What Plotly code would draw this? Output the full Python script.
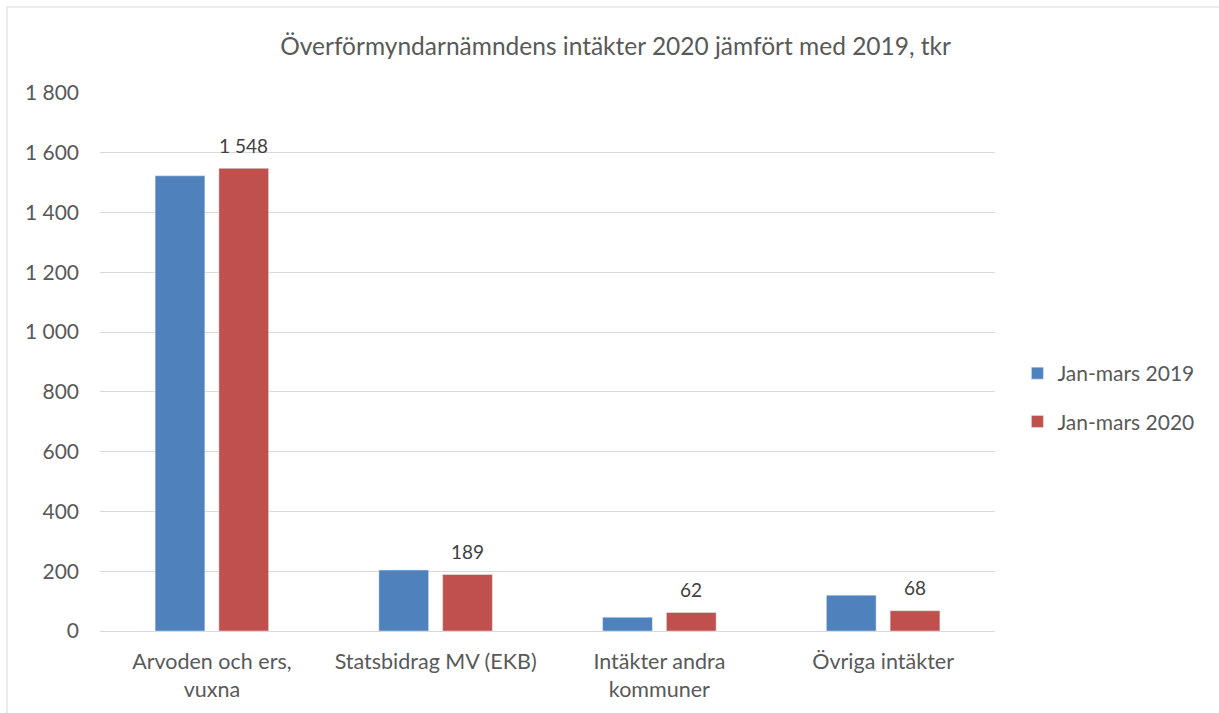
import plotly.graph_objects as go

categories = ["Arvoden och ers,<br>vuxna", "Statsbidrag MV (EKB)", "Intäkter andra<br>kommuner", "Övriga intäkter"]
series_2019_name = "Jan-mars 2019"
series_2020_name = "Jan-mars 2020"
values_2019 = [1523, 204, 46, 120]
values_2020 = [1548, 189, 62, 68]
title_text = "Överförmyndarnämndens intäkter 2020 jämfört med 2019, tkr"
y_ticks = [0, 200, 400, 600, 800, 1000, 1200, 1400, 1600, 1800]

font_family = "Lato, Open Sans, sans-serif"
grey = "#595959"

fig = go.Figure()
fig.add_trace(go.Bar(
    x=categories, y=values_2019, name=series_2019_name,
    marker=dict(color="#4F81BD"), legendgroup="a",
))
fig.add_trace(go.Bar(
    x=categories, y=values_2020, name=series_2020_name,
    marker=dict(color="#C0504D"), legendgroup="b",
))

# data labels for the 2020 series, placed above each red bar
for cat, val in zip(categories, values_2020):
    fig.add_annotation(
        x=cat, y=val, xref="x", yref="y", xshift=32, yshift=23,
        text=f"{val:,}".replace(",", " "), showarrow=False,
        xanchor="center", yanchor="middle",
        font=dict(size=19, color="#404040", family=font_family),
    )

fig.update_layout(
    width=1219, height=713,
    separators=", ",
    paper_bgcolor="white", plot_bgcolor="white",
    margin=dict(l=100, r=224, t=93, b=82),
    barmode="group", bargap=0.43, bargroupgap=0.22,
    title=dict(text=title_text, x=0.505, xref="container", xanchor="center",
               y=0.935, yref="container", yanchor="middle",
               font=dict(size=24.5, color=grey, family=font_family)),
    font=dict(family=font_family, size=19, color=grey),
    legend=dict(x=1.025, xanchor="left", y=0.434, yanchor="middle",
                font=dict(size=21, color=grey), traceorder="grouped",
                tracegroupgap=18, itemwidth=30),
    showlegend=True,
)
fig.update_yaxes(range=[0, 1800], tickvals=y_ticks, tickformat=",d",
                 showgrid=True, gridcolor="#d9d9d9", gridwidth=1,
                 zeroline=False, showline=False, ticks="",
                 tickfont=dict(size=21, color=grey), ticklabelstandoff=20)
fig.update_xaxes(showline=True, linecolor="#d9d9d9", linewidth=1, ticks="",
                 tickfont=dict(size=21.5, color=grey), ticklabelstandoff=11)

fig.add_shape(type="rect", xref="paper", yref="paper",
              x0=-93/895, x1=(1240-100)/895, y0=-1, y1=(631-7)/538,
              line=dict(color="#d9d9d9", width=1), fillcolor="rgba(0,0,0,0)",
              layer="below")

fig.write_html("out.html", config={"displayModeBar": False},
               post_script="document.body.style.margin='0';document.body.style.overflow='hidden';")
